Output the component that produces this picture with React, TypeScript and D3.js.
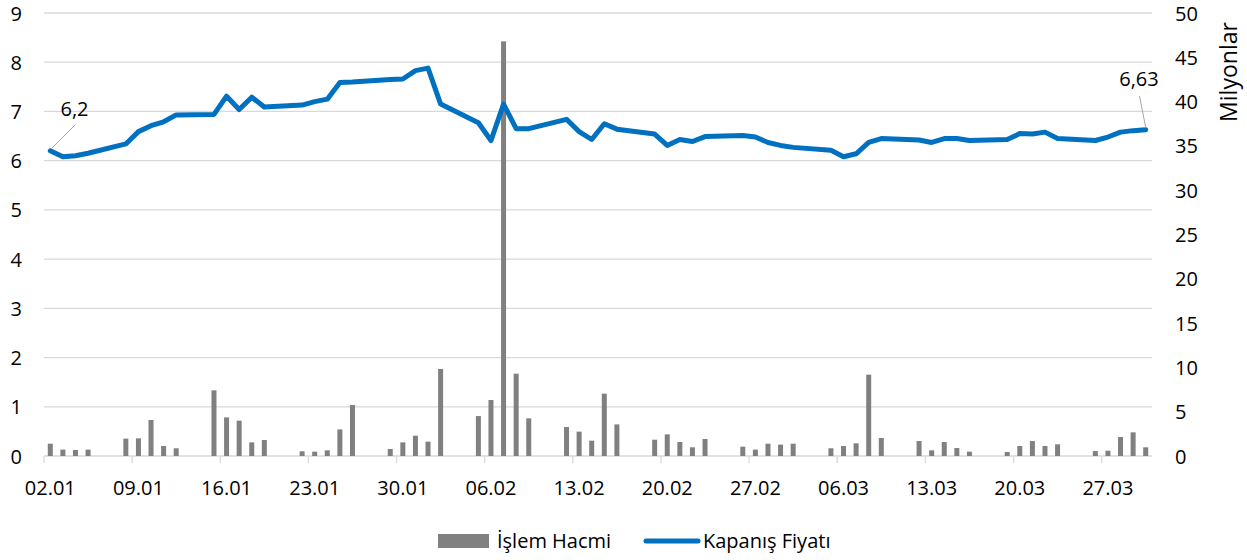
import React from "react";
import * as d3 from "d3";

const tradingDays: string[] = [
  "2024-01-02","2024-01-03","2024-01-04","2024-01-05",
  "2024-01-08","2024-01-09","2024-01-10","2024-01-11","2024-01-12",
  "2024-01-15","2024-01-16","2024-01-17","2024-01-18","2024-01-19",
  "2024-01-22","2024-01-23","2024-01-24","2024-01-25","2024-01-26",
  "2024-01-29","2024-01-30","2024-01-31","2024-02-01","2024-02-02",
  "2024-02-05","2024-02-06","2024-02-07","2024-02-08","2024-02-09",
  "2024-02-12","2024-02-13","2024-02-14","2024-02-15","2024-02-16",
  "2024-02-19","2024-02-20","2024-02-21","2024-02-22","2024-02-23",
  "2024-02-26","2024-02-27","2024-02-28","2024-02-29","2024-03-01",
  "2024-03-04","2024-03-05","2024-03-06","2024-03-07","2024-03-08",
  "2024-03-11","2024-03-12","2024-03-13","2024-03-14","2024-03-15",
  "2024-03-18","2024-03-19","2024-03-20","2024-03-21","2024-03-22",
  "2024-03-25","2024-03-26","2024-03-27","2024-03-28","2024-03-29",
];

// İşlem Hacmi (milyon)
const volume: number[] = [
  1.39, 0.72, 0.68, 0.72,
  1.96, 1.99, 4.06, 1.13, 0.87,
  7.41, 4.36, 3.99, 1.54, 1.81,
  0.53, 0.49, 0.64, 3.0, 5.76,
  0.79, 1.54, 2.29, 1.62, 9.82,
  4.51, 6.32, 46.8, 9.29, 4.25,
  3.27, 2.75, 1.73, 7.04, 3.57,
  1.84, 2.44, 1.58, 0.98, 1.92,
  1.05, 0.72, 1.39, 1.28, 1.39,
  0.87, 1.13, 1.43, 9.18, 2.03,
  1.69, 0.64, 1.58, 0.9, 0.49,
  0.45, 1.13, 1.69, 1.13, 1.32,
  0.56, 0.6, 2.14, 2.67, 0.98,
];

// Kapanış Fiyatı
const price: number[] = [
  6.2, 6.08, 6.1, 6.15,
  6.34, 6.59, 6.71, 6.79, 6.93,
  6.94, 7.31, 7.04, 7.29, 7.09,
  7.13, 7.2, 7.25, 7.59, 7.6,
  7.65, 7.66, 7.83, 7.88, 7.15,
  6.77, 6.41, 7.15, 6.65, 6.65,
  6.84, 6.59, 6.43, 6.75, 6.64,
  6.54, 6.31, 6.43, 6.39, 6.49,
  6.51, 6.48, 6.37, 6.31, 6.27,
  6.21, 6.08, 6.14, 6.37, 6.45,
  6.42, 6.37, 6.45, 6.45, 6.41,
  6.43, 6.55, 6.54, 6.58, 6.45,
  6.41, 6.48, 6.58, 6.61, 6.63,
];

const xTickLabels: string[] = [
  "02.01","09.01","16.01","23.01","30.01","06.02","13.02",
  "20.02","27.02","06.03","13.03","20.03","27.03",
];

const leftTicks: number[] = [0,1,2,3,4,5,6,7,8,9];
const rightTicks: number[] = [0,5,10,15,20,25,30,35,40,45,50];

const FONT = "'Open Sans', sans-serif";

export default function App() {
  const start = new Date(2024, 0, 2);
  const dayIdx = tradingDays.map((s) => {
    const [y, m, d] = s.split("-").map(Number);
    return d3.timeDay.count(start, new Date(y, m - 1, d));
  });
  const x = d3.scaleLinear().domain([0, 88]).range([44, 1152]);
  const yL = d3.scaleLinear().domain([0, 9]).range([456, 13]);
  const yR = d3.scaleLinear().domain([0, 50]).range([456, 13]);
  const line = d3
    .line<number>()
    .x((_, i) => x(dayIdx[i] + 0.5))
    .y((v) => yL(v));
  const barW = 5;
  const grid = "#d9d9d9";
  const txt = "#000000";

  const firstX = x(dayIdx[0] + 0.5);
  const firstY = yL(price[0]);
  const lastI = price.length - 1;
  const lastX = x(dayIdx[lastI] + 0.5);
  const lastY = yL(price[lastI]);

  return (
    <svg
      width={1247}
      height={560}
      style={{ position: "absolute", left: 0, top: 0, background: "#fff" }}
      fontFamily={FONT}
    >
      {leftTicks.map((t) => (
        <line key={"g" + t} x1={44} x2={1152} y1={yL(t)} y2={yL(t)} stroke={grid} strokeWidth={1.3} />
      ))}
      {xTickLabels.map((_, k) => (
        <line key={"t" + k} x1={x(k * 7)} x2={x(k * 7)} y1={456} y2={463} stroke={grid} strokeWidth={1.3} />
      ))}
      {volume.map((v, i) => (
        <rect
          key={"b" + i}
          x={x(dayIdx[i] + 0.5) - barW / 2}
          y={yR(v)}
          width={barW}
          height={yR(0) - yR(v)}
          fill="#808080"
        />
      ))}
      <path
        d={line(price) || ""}
        fill="none"
        stroke="#0070C0"
        strokeWidth={5}
        strokeLinejoin="round"
        strokeLinecap="round"
      />
      {/* data labels */}
      <line x1={firstX + 1} y1={firstY - 2} x2={75} y2={125} stroke="#a6a6a6" strokeWidth={1} />
      <text x={74.5} y={108} fontSize={20} fill={txt} textAnchor="middle" dominantBaseline="central">
        {String(price[0]).replace(".", ",")}
      </text>
      <line x1={lastX} y1={lastY - 2} x2={1139.5} y2={96} stroke="#a6a6a6" strokeWidth={1} />
      <text x={1139} y={78} fontSize={20} fill={txt} textAnchor="middle" dominantBaseline="central">
        {String(price[lastI]).replace(".", ",")}
      </text>
      {/* left axis */}
      {leftTicks.map((t) => (
        <text key={"l" + t} x={22} y={yL(t)} fontSize={20} fill={txt} textAnchor="end" dominantBaseline="central">
          {t}
        </text>
      ))}
      {/* right axis */}
      {rightTicks.map((t) => (
        <text key={"r" + t} x={1175} y={yR(t)} fontSize={20} fill={txt} textAnchor="start" dominantBaseline="central">
          {t}
        </text>
      ))}
      <text
        transform={`translate(1228,72) rotate(-90)`}
        fontSize={23}
        fill={txt}
        textAnchor="middle"
        dominantBaseline="central"
      >
        Milyonlar
      </text>
      {/* x labels */}
      {xTickLabels.map((l, k) => (
        <text key={"x" + k} x={x(k * 7 + 0.5)} y={487} fontSize={20} fill={txt} textAnchor="middle" dominantBaseline="central">
          {l}
        </text>
      ))}
      {/* legend */}
      <rect x={438} y={534} width={51} height={14} fill="#808080" />
      <text x={497} y={540} fontSize={20} fill={txt} dominantBaseline="central">
        İşlem Hacmi
      </text>
      <line x1={646} x2={698} y1={541} y2={541} stroke="#0070C0" strokeWidth={5} strokeLinecap="round" />
      <text x={703} y={540} fontSize={20} fill={txt} dominantBaseline="central">
        Kapanış Fiyatı
      </text>
    </svg>
  );
}
